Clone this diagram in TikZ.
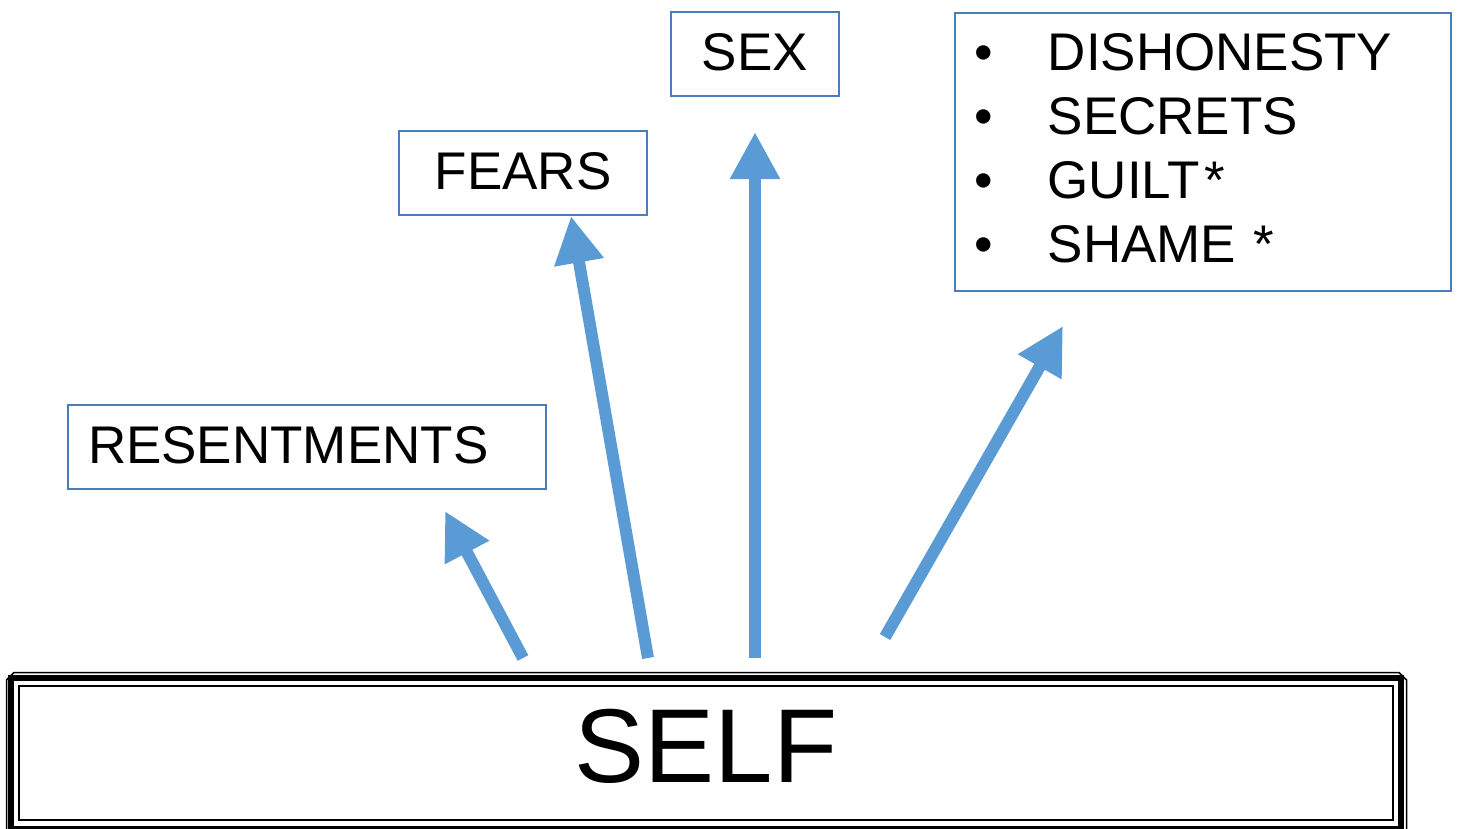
\documentclass[tikz,border=0pt]{standalone}
\usepackage{fontspec}
\setmainfont{Liberation Sans}
\usepackage{tikz}
\usetikzlibrary{arrows.meta,positioning}

\definecolor{boxblue}{RGB}{74,126,187}
\definecolor{arrowblue}{RGB}{91,155,213}

\tikzset{
  sinbox/.style={draw=boxblue, line width=1.5pt, minimum height=84pt, inner sep=0pt,
    text height=38pt, text depth=6pt, font=\fontsize{53}{64}\selectfont},
  link/.style={draw=arrowblue, line width=12pt, -{Triangle[length=47pt,width=47pt]}},
}

\begin{document}
\begin{tikzpicture}[x=1pt,y=-1pt]
  \useasboundingbox (0,0) rectangle (1458,828);
  % the self box, three frames
  \node[draw, line width=1.5pt, minimum width=1374pt, minimum height=134pt, inner sep=0pt,
        text height=75pt, text depth=17pt, font=\fontsize{105}{110}\selectfont]
        (self) at (706,753) {SELF};
  \draw[line width=6pt] ([shift={(-7,-7)}]self.north west) rectangle ([shift={(7,8)}]self.south east);
  \draw[line width=1.5pt] (6.5,845) -- (6.5,680) -- (14,672.5) -- (1399,672.5) -- (1406.5,680) -- (1406.5,845);
  % the boxes
  \node[sinbox, minimum width=248pt] (fears) at (523,173) {FEARS};
  \node[sinbox, minimum width=168pt] (sex) at (755,54) {SEX};
  \node[sinbox, text width=438pt, inner xsep=20pt, align=left] (resent) at (307,447) {RESENTMENTS};
  \node[draw=boxblue, line width=1.5pt, anchor=north west, minimum width=496pt, minimum height=278pt,
        text width=456pt, inner xsep=20pt, inner ysep=0pt, align=left, text height=30pt,
        font=\fontsize{53}{64}\selectfont] (sins) at (954,12)
        {\makebox[73pt][l]{•}DISHONESTY\\
         \makebox[73pt][l]{•}SECRETS\\
         \makebox[73pt][l]{•}GUILT\kern5pt*\\
         \makebox[73pt][l]{•}SHAME *};
  % arrow ends
  \coordinate (resent-tail) at (523,658);
  \coordinate (resent-tip)  at (445,511);
  \coordinate (fears-tail)  at (648,658);
  \coordinate (fears-tip)   at (571,216);
  \coordinate (sex-tail)    at (755,658);
  \coordinate (sex-tip)     at (755,132);
  \coordinate (sins-tail)   at (885,637);
  \coordinate (sins-tip)    at (1063,326);
  \foreach \n in {resent,fears,sex,sins}
    \draw[link] (\n-tail) -- (\n-tip);
\end{tikzpicture}
\end{document}
